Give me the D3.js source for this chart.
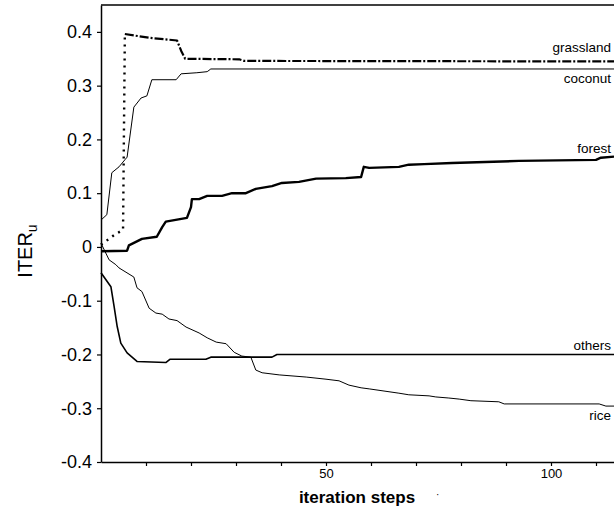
<!DOCTYPE html>
<html><head><meta charset="utf-8">
<script src="https://cdn.jsdelivr.net/npm/d3@7"></script>
<style>
html,body{margin:0;padding:0;background:#fff;}
text{font-family:"Liberation Sans",Arial,sans-serif;fill:#000;}
</style></head>
<body>
<svg id="c" width="614" height="509"></svg>
<script>
const seriesNames = ["grassland","coconut","forest","others","rice"];
const grassland = [[0,0.004],[2.9,0.022],[4.9,0.032],[5.3,0.396],[10.7,0.389],[16.9,0.384],[17.8,0.365],[18.7,0.35],[30.7,0.349],[31.8,0.346],[114,0.345]];
const grasslandDottedUntil = 3;
const coconut = [[0,0.05],[1.3,0.06],[2.4,0.138],[4,0.149],[5.3,0.162],[5.8,0.167],[7.3,0.26],[8.9,0.277],[10.2,0.281],[11.3,0.311],[16.7,0.311],[17.8,0.322],[21.3,0.324],[23.6,0.326],[24.4,0.331],[114,0.331]];
const forest = [[0,-0.008],[5.8,-0.007],[6.2,0.003],[9.1,0.015],[12.4,0.019],[13.6,0.037],[14.4,0.047],[19.1,0.054],[20,0.074],[20.2,0.089],[21.8,0.089],[23.6,0.095],[26.9,0.095],[29.1,0.1],[32.2,0.1],[34.4,0.108],[38,0.113],[40.2,0.119],[44,0.121],[47.8,0.127],[54.4,0.128],[57.8,0.13],[58.4,0.149],[59.6,0.147],[66.2,0.149],[68.4,0.153],[71.8,0.154],[78,0.156],[92.9,0.16],[110,0.162],[111.1,0.166],[114,0.168]];
const others = [[0,-0.048],[2.2,-0.074],[2.9,-0.11],[3.6,-0.148],[4.4,-0.179],[5.8,-0.197],[8,-0.213],[14.4,-0.215],[15.3,-0.209],[23.3,-0.209],[24.4,-0.205],[38,-0.205],[39.1,-0.2],[114,-0.2]];
const rice = [[0,0.007],[1.8,-0.024],[3.3,-0.033],[4,-0.039],[7.3,-0.056],[8,-0.076],[9.1,-0.083],[10.7,-0.114],[12.2,-0.123],[13.6,-0.125],[15.1,-0.134],[16.9,-0.137],[18.9,-0.149],[21.8,-0.16],[23.6,-0.169],[25.6,-0.177],[27.8,-0.18],[29.6,-0.196],[31.3,-0.203],[33.3,-0.205],[34.4,-0.229],[35.8,-0.234],[39.6,-0.238],[45.6,-0.242],[50,-0.246],[52.9,-0.249],[55.1,-0.257],[57.8,-0.262],[59.6,-0.264],[66.2,-0.272],[68.4,-0.275],[72.9,-0.277],[74.4,-0.279],[77.3,-0.281],[79.6,-0.283],[82.2,-0.286],[88.4,-0.288],[89.6,-0.292],[110.7,-0.292],[112.2,-0.296],[114,-0.296]];
const yTicks = [-0.4,-0.3,-0.2,-0.1,0,0.1,0.2,0.3,0.4];
const xTicks = [10,20,30,40,50,60,70,80,90,100,110];
const xTickLabels = [50,100];
const yTitle = "ITER", yTitleSub = "u";
const xTitle = "iteration steps";

const svg = d3.select("#c");
const x = d3.scaleLinear().domain([0,114]).range([101,614]);
const y = d3.scaleLinear().domain([-0.4,0.45]).range([462,5]);

// top border
svg.append("line").attr("x1",x(0)).attr("x2",x(114)).attr("y1",y(0.45)).attr("y2",y(0.45))
  .attr("stroke","#000").attr("stroke-width",1.5);

const yAxis = d3.axisLeft(y).tickValues(yTicks).tickSize(4).tickSizeOuter(0)
  .tickFormat(d => d===0 ? "0" : d.toFixed(1));
const gy = svg.append("g").attr("transform",`translate(${x(0)},0)`).call(yAxis);
gy.select(".domain").attr("stroke-width",1.5);
gy.selectAll(".tick line").attr("stroke-width",1.2);
gy.selectAll(".tick text").attr("font-size",18).attr("x",-9).attr("font-family","Liberation Sans, Arial, sans-serif");

const xAxis = d3.axisBottom(x).tickValues(xTicks).tickSize(4).tickSizeOuter(0)
  .tickFormat(d => xTickLabels.includes(d) ? String(d) : "");
const gx = svg.append("g").attr("transform",`translate(0,${y(-0.4)})`).call(xAxis);
gx.select(".domain").attr("stroke-width",1.5);
gx.selectAll(".tick line").attr("stroke-width",1.2);
gx.selectAll(".tick text").attr("font-size",13).attr("y",7).attr("font-family","Liberation Sans, Arial, sans-serif");

const line = d3.line().x(d=>x(d[0])).y(d=>y(d[1]));
function draw(data, w, dash){
  const p = svg.append("path").datum(data).attr("d",line).attr("fill","none")
    .attr("stroke","#000").attr("stroke-width",w).attr("stroke-linejoin","round");
  if(dash) p.attr("stroke-dasharray",dash);
  return p;
}
draw(coconut,1,null);
draw(rice,1,null);
draw(others,1.6,null);
draw(forest,2.4,null);
draw(grassland.slice(0,grasslandDottedUntil+1),2.4,"2,5");
draw(grassland.slice(grasslandDottedUntil),2.2,"9,2,2,2");

// series labels
const labelPos = {grassland:52, coconut:83, forest:153, others:350, rice:420};
seriesNames.forEach(n=>{
  svg.append("text").attr("x",611).attr("y",labelPos[n]).attr("text-anchor","end")
    .attr("font-size",13.5).text(n);
});

// y title
const yt = svg.append("text").attr("transform","translate(32,251) rotate(-90)")
  .attr("text-anchor","middle").attr("font-size",20);
yt.append("tspan").text(yTitle);
yt.append("tspan").attr("font-size",14).attr("dy",5).text(yTitleSub);

// x title
svg.append("text").attr("x",357).attr("y",503).attr("text-anchor","middle")
  .attr("font-size",17).attr("font-weight","bold").text(xTitle);
svg.append("text").attr("x",436).attr("y",498).attr("font-size",10).text("·");
</script>
</body></html>
